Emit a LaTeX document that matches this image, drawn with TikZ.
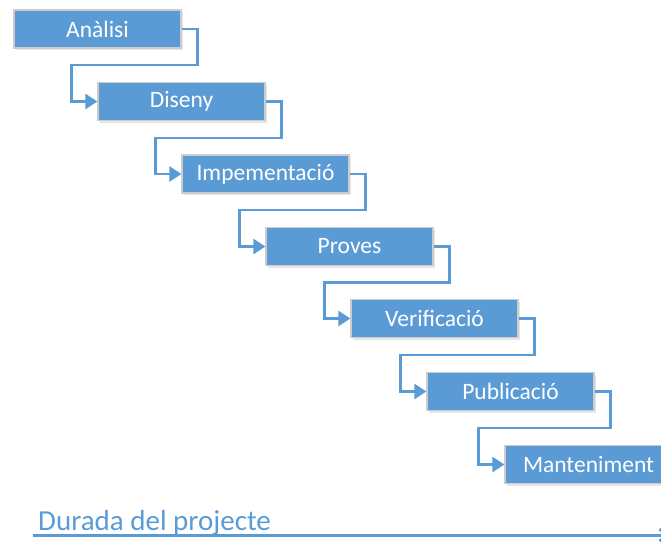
\documentclass[tikz,border=0pt]{standalone}
\usepackage{fontspec}
\setmainfont{Carlito}
\usetikzlibrary{arrows.meta,calc,shadows}
\definecolor{fasecolor}{HTML}{5B9BD5}

\begin{document}
\begin{tikzpicture}[x=1pt,y=-1pt,
	fase/.style={rectangle, fill=fasecolor, draw=black!20, line width=1.2pt,
		minimum width=167pt, minimum height=38pt, inner sep=0pt,
		text=white, font=\fontsize{23.5}{26}\selectfont,
		drop shadow={opacity=0.2, shadow xshift=1.5pt, shadow yshift=-2pt}},
	enllac/.style={draw=fasecolor, line width=2.4pt, -{Triangle[length=12pt,width=15pt]}}]
	\useasboundingbox (0,0) rectangle (661,544);
	\clip (0,0) rectangle (661,544);
	\node[fase] (analisi) at (97.5,29) {Anàlisi};
	\node[fase] (diseny) at (181.5,101.5) {Diseny};
	\node[fase] (implementacio) at (265.5,174) {Impementació};
	\node[fase] (proves) at (349.5,246.5) {Proves};
	\node[fase] (verificacio) at (434.5,318.5) {Verificació};
	\node[fase] (publicacio) at (510.5,391.5) {Publicació};
	\node[fase] (manteniment) at (588.5,464.5) {Manteniment};
	\foreach \a/\b in {analisi/diseny, diseny/implementacio, implementacio/proves,
		proves/verificacio, verificacio/publicacio, publicacio/manteniment}
		\draw[enllac] (\a.east) -- ++(16,0) |- ($(\a.south)!0.5!(\b.north)$)
			-| ([xshift=-26pt]\b.west) -- (\b.west);
	% eix del temps
	\coordinate (inici) at (33,535);
	\coordinate (final) at (670,535);
	\draw[fasecolor, line width=3pt, -{Straight Barb[length=8pt,width=12pt]}] (inici) -- (final);
	\node[anchor=base west, inner sep=0pt, text=fasecolor,
		font=\fontsize{29}{32}\selectfont] (durada) at (38,530) {Durada del projecte};
\end{tikzpicture}
\end{document}
